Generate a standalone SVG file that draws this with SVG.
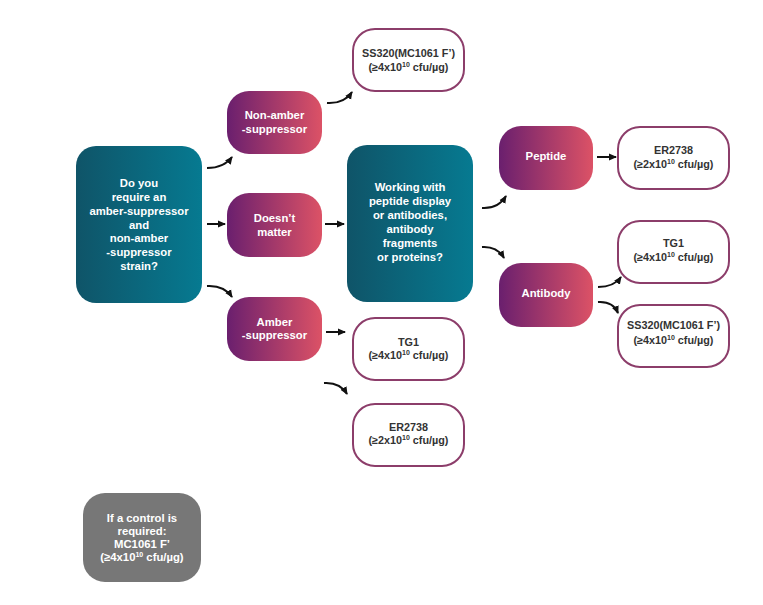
<svg xmlns="http://www.w3.org/2000/svg" width="763" height="605" viewBox="0 0 763 605">
<defs>
<linearGradient id="teal" x1="0" y1="0" x2="1" y2="0">
<stop offset="0" stop-color="#0f5468"/>
<stop offset="1" stop-color="#067a91"/>
</linearGradient>
<linearGradient id="purple" x1="0" y1="0" x2="1" y2="0">
<stop offset="0" stop-color="#6a1f6e"/>
<stop offset="1" stop-color="#dc5266"/>
</linearGradient>
<marker id="ah" markerUnits="userSpaceOnUse" markerWidth="8" markerHeight="8" viewBox="0 0 8 8" refX="7" refY="4" orient="auto">
<path d="M0,0.5 L8,4 L0,7.5 z" fill="#111"/>
</marker>
<style>
.q{fill:url(#teal)}
.p{fill:url(#purple)}
.o{fill:#fff;stroke:#8c3d6a;stroke-width:2}
.g{fill:#777}
text{font-family:"Liberation Sans",Arial,sans-serif;font-weight:bold;text-anchor:middle}
.w{fill:#fff;font-size:11.3px}
.d{fill:#333;font-size:10.8px}
.sup{font-size:7px}
.c{fill:none;stroke:#111;stroke-width:2;marker-end:url(#ah)}
</style>
</defs>
<rect width="763" height="605" fill="#fff"/>

<g id="connectors">
<path class="c" d="M207,168 Q224,168 232,157"/>
<path class="c" d="M207,224 L225,224"/>
<path class="c" d="M207,286 Q224,285 232,297"/>
<path class="c" d="M327,103 Q344,104 352,92"/>
<path class="c" d="M325,224 L344,224"/>
<path class="c" d="M326,332 L345,332"/>
<path class="c" d="M324,383 Q340,382 347,394"/>
<path class="c" d="M482,208 Q498,209 506,196"/>
<path class="c" d="M482,247 Q497,246 504,258"/>
<path class="c" d="M597,157 L616,157"/>
<path class="c" d="M598,287 Q614,287 621,277"/>
<path class="c" d="M598,302 Q613,301 618,313"/>
</g>

<g id="n-question1">
<rect class="q" x="76" y="146" width="126" height="157" rx="20"/>
<text class="w" x="139" y="187">Do you</text>
<text class="w" x="139" y="201">require an</text>
<text class="w" x="139" y="215">amber-suppressor</text>
<text class="w" x="139" y="229">and</text>
<text class="w" x="139" y="242">non-amber</text>
<text class="w" x="139" y="256">-suppressor</text>
<text class="w" x="139" y="270">strain?</text>
</g>

<g id="n-nonamber">
<rect class="p" x="227" y="91" width="95" height="63" rx="22"/>
<text class="w" x="274.5" y="119">Non-amber</text>
<text class="w" x="274.5" y="133">-suppressor</text>
</g>

<g id="n-doesnt">
<rect class="p" x="227" y="193" width="95" height="64" rx="22"/>
<text class="w" x="274.5" y="222">Doesn’t</text>
<text class="w" x="274.5" y="236">matter</text>
</g>

<g id="n-amber">
<rect class="p" x="227" y="297" width="95" height="64" rx="22"/>
<text class="w" x="274.5" y="326">Amber</text>
<text class="w" x="274.5" y="339">-suppressor</text>
</g>

<g id="n-ss320-top">
<rect class="o" x="353" y="29" width="111" height="62" rx="22"/>
<text class="d" x="408.5" y="57">SS320(MC1061 F’)</text>
<text class="d" x="408.5" y="71">(≥4x10<tspan class="sup" dy="-4">10</tspan><tspan dy="4"> cfu/µg)</tspan></text>
</g>

<g id="n-question2">
<rect class="q" x="347" y="145" width="126" height="157" rx="20"/>
<text class="w" x="410" y="191">Working with</text>
<text class="w" x="410" y="205">peptide display</text>
<text class="w" x="410" y="219">or antibodies,</text>
<text class="w" x="410" y="233">antibody</text>
<text class="w" x="410" y="247">fragments</text>
<text class="w" x="410" y="261">or proteins?</text>
</g>

<g id="n-tg1-bottom">
<rect class="o" x="353" y="318" width="111" height="62" rx="22"/>
<text class="d" x="408.5" y="346">TG1</text>
<text class="d" x="408.5" y="359">(≥4x10<tspan class="sup" dy="-4">10</tspan><tspan dy="4"> cfu/µg)</tspan></text>
</g>

<g id="n-er2738-bottom">
<rect class="o" x="353" y="404" width="111" height="62" rx="22"/>
<text class="d" x="408.5" y="431">ER2738</text>
<text class="d" x="408.5" y="444">(≥2x10<tspan class="sup" dy="-4">10</tspan><tspan dy="4"> cfu/µg)</tspan></text>
</g>

<g id="n-peptide">
<rect class="p" x="499" y="126" width="94" height="64" rx="22"/>
<text class="w" x="546" y="160">Peptide</text>
</g>

<g id="n-antibody">
<rect class="p" x="499" y="263" width="94" height="64" rx="22"/>
<text class="w" x="546" y="297">Antibody</text>
</g>

<g id="n-er2738-right">
<rect class="o" x="618" y="127" width="111" height="62" rx="22"/>
<text class="d" x="673.5" y="154">ER2738</text>
<text class="d" x="673.5" y="168">(≥2x10<tspan class="sup" dy="-4">10</tspan><tspan dy="4"> cfu/µg)</tspan></text>
</g>

<g id="n-tg1-right">
<rect class="o" x="618" y="221" width="111" height="62" rx="22"/>
<text class="d" x="673.5" y="247">TG1</text>
<text class="d" x="673.5" y="261">(≥4x10<tspan class="sup" dy="-4">10</tspan><tspan dy="4"> cfu/µg)</tspan></text>
</g>

<g id="n-ss320-right">
<rect class="o" x="618" y="305" width="111" height="62" rx="22"/>
<text class="d" x="673.5" y="329">SS320(MC1061 F’)</text>
<text class="d" x="673.5" y="344">(≥4x10<tspan class="sup" dy="-4">10</tspan><tspan dy="4"> cfu/µg)</tspan></text>
</g>

<g id="n-control">
<rect class="g" x="83" y="493" width="118" height="89" rx="22"/>
<text class="w" x="142" y="522">If a control is</text>
<text class="w" x="142" y="535">required:</text>
<text class="w" x="142" y="548">MC1061 F’</text>
<text class="w" x="142" y="561">(≥4x10<tspan class="sup" dy="-4">10</tspan><tspan dy="4"> cfu/µg)</tspan></text>
</g>
</svg>
